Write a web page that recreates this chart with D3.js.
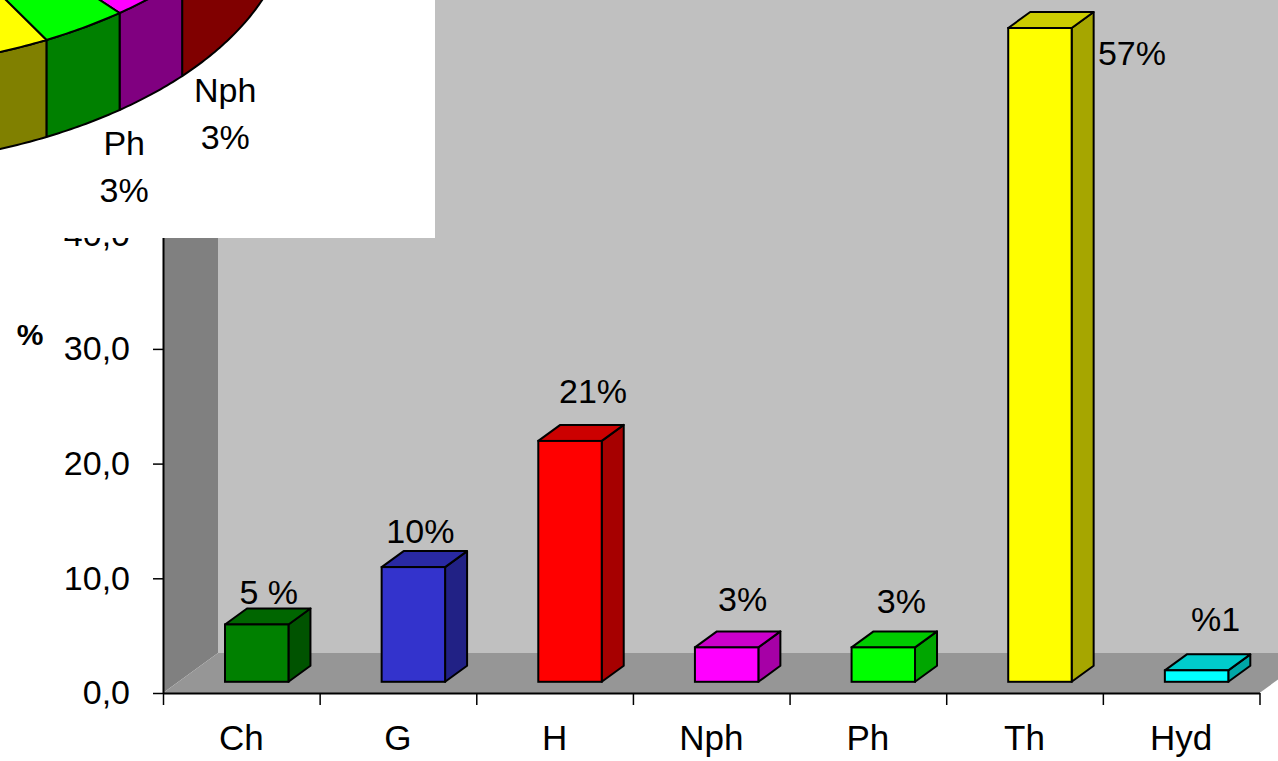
<!DOCTYPE html>
<html>
<head>
<meta charset="utf-8">
<script src="https://cdn.jsdelivr.net/npm/d3@7"></script>
<style>
  html, body { margin: 0; padding: 0; background: #fff; overflow: hidden; }
  svg { display: block; font-family: "Liberation Sans", Arial, sans-serif; }
</style>
</head>
<body>
<svg id="chart" width="1278" height="761"></svg>
<script>
// Life-form spectrum (%)
const categories = ["Ch", "G", "H", "Nph", "Ph", "Th", "Hyd"];
const values = [5, 10, 21, 3, 3, 57, 1];
const valueLabels = ["5 %", "10%", "21%", "3%", "3%", "57%", "%1"];
const pieLabels = ["5%", "10%", "21%", "3%", "3%", "57%", "1%"];
const colors = ["#008000", "#3333CC", "#FF0000", "#FF00FF", "#00FF00", "#FFFF00", "#00FFFF"];
const yTicks = [0, 10, 20, 30, 40, 50];

// label nudges relative to the centre of each bar's top face
const labelOffsets = [[1, -4], [-4, -8], [12, -22], [5, -20], [7, -18], [81, 53], [8, -23]];

const svg = d3.select("#chart");

// ---- 3D bar chart frame ----
const x0 = 163, x1 = 1259.5, yBase = 693;
const depthX = 55, depthY = -40;          // wall depth offset
const f0 = 0.28, f1 = 0.68;               // bar front / back depth fractions

const x = d3.scaleBand().domain(categories).range([x0, x1]);
const xIdx = d3.scaleLinear().domain([0, categories.length]).range([x0, x1]);
const y = d3.scaleLinear().domain([0, 60]).range([yBase, yBase - 688.2]);
const yTop = y(60);

const comma = d3.formatLocale({ decimal: ",", thousands: ".", grouping: [3], currency: ["", ""] }).format(".1f");

const frame = svg.append("g");
// back wall
frame.append("rect")
  .attr("x", x0 + depthX).attr("y", yTop + depthY)
  .attr("width", x1 - x0).attr("height", yBase - yTop)
  .attr("fill", "#C0C0C0");
// left wall
frame.append("polygon")
  .attr("points", [[x0, yTop], [x0 + depthX, yTop + depthY], [x0 + depthX, yBase + depthY], [x0, yBase]].join(" "))
  .attr("fill", "#808080");
// floor
frame.append("polygon")
  .attr("points", [[x0, yBase], [x1, yBase], [x1 + depthX, yBase + depthY], [x0 + depthX, yBase + depthY]].join(" "))
  .attr("fill", "#969696");

// axes
const yAxis = svg.append("g")
  .attr("transform", `translate(${x0},0)`)
  .call(d3.axisLeft(y).tickValues(yTicks).tickSize(10).tickSizeOuter(0).tickPadding(23).tickFormat(comma));
yAxis.select(".domain").attr("stroke", "#000").attr("stroke-width", 2);
yAxis.selectAll(".tick line").attr("stroke", "#000").attr("stroke-width", 1.5);
yAxis.selectAll(".tick text")
  .attr("font-size", 34).attr("fill", "#000")
  .attr("font-family", "Liberation Sans, Arial, sans-serif");

const xAxis = svg.append("g")
  .attr("transform", `translate(0,${yBase})`)
  .call(d3.axisBottom(xIdx).ticks(categories.length).tickSize(12).tickSizeOuter(0).tickFormat(""));
xAxis.select(".domain").attr("stroke", "#000").attr("stroke-width", 2);
xAxis.selectAll(".tick line").attr("stroke", "#000").attr("stroke-width", 1.5);

const xLabels = svg.append("g")
  .attr("transform", `translate(0,${yBase})`)
  .call(d3.axisBottom(x).tickSize(0).tickPadding(0));
xLabels.select(".domain").remove();
xLabels.selectAll(".tick text")
  .attr("y", 57).attr("dy", 0)
  .attr("font-size", 35).attr("fill", "#000")
  .attr("font-family", "Liberation Sans, Arial, sans-serif");

// y-axis title
svg.append("text")
  .attr("x", 30).attr("y", 345)
  .attr("text-anchor", "middle")
  .attr("font-size", 30).attr("font-weight", "bold")
  .text("%");

// ---- bars ----
const barW = x.bandwidth() * 0.405;
const ox = depthX * f0, oy = depthY * f0;
const bdx = depthX * (f1 - f0), bdy = depthY * (f1 - f0);
const shade = (c, k) => { const r = d3.rgb(c); return d3.rgb(r.r * k, r.g * k, r.b * k).formatHex(); };

const bars = svg.append("g").selectAll("g.bar")
  .data(categories.map((c, i) => ({ c, v: values[i], col: colors[i], lab: valueLabels[i], off: labelOffsets[i] })))
  .join("g").attr("class", "bar");

bars.each(function (d) {
  const g = d3.select(this);
  const xl = x(d.c) + (x.bandwidth() - barW) / 2 + ox;
  const xr = xl + barW;
  const yt = y(d.v) + oy;
  const yb = yBase + oy;
  g.append("polygon")
    .attr("points", [[xr, yt], [xr + bdx, yt + bdy], [xr + bdx, yb + bdy], [xr, yb]].join(" "))
    .attr("fill", shade(d.col, 0.65)).attr("stroke", "#000").attr("stroke-width", 2).attr("stroke-linejoin", "round");
  g.append("polygon")
    .attr("points", [[xl, yt], [xr, yt], [xr + bdx, yt + bdy], [xl + bdx, yt + bdy]].join(" "))
    .attr("fill", shade(d.col, 0.8)).attr("stroke", "#000").attr("stroke-width", 2).attr("stroke-linejoin", "round");
  g.append("rect")
    .attr("x", xl).attr("y", yt).attr("width", barW).attr("height", yb - yt)
    .attr("fill", d.col).attr("stroke", "#000").attr("stroke-width", 2);
  g.append("text")
    .attr("x", xl + barW / 2 + bdx / 2 + d.off[0])
    .attr("y", yt + bdy + d.off[1])
    .attr("text-anchor", "middle")
    .attr("font-size", 34).attr("fill", "#000")
    .text(d.lab);
});

// ---- inset 3D pie ----
const boxW = 435, boxH = 238;
const inset = svg.append("g");
inset.append("rect").attr("x", 0).attr("y", 0).attr("width", boxW).attr("height", boxH).attr("fill", "#fff");
svg.append("clipPath").attr("id", "insetClip")
  .append("rect").attr("x", 0).attr("y", 0).attr("width", boxW).attr("height", boxH);
const pieG = inset.append("g").attr("clip-path", "url(#insetClip)");

const pcx = -180, pcyTop = -183.5, prx = 470, pry = 255, pth = 97;
const ell = (t, dy) => [pcx + prx * Math.cos(t), pcyTop + dy + pry * Math.sin(t)];
const arcPts = (a, b, dy) => {
  const n = Math.max(2, Math.ceil(Math.abs(b - a) / 0.01));
  return d3.range(n + 1).map(i => ell(a + (b - a) * i / n, dy));
};

const arcs = d3.pie().sort(null).value(d => d)
  .startAngle(-Math.PI / 2).endAngle(3 * Math.PI / 2)(values);

// side walls on the front half
arcs.forEach((a, i) => {
  const s0 = Math.max(a.startAngle, 0), s1 = Math.min(a.endAngle, Math.PI);
  if (s1 <= s0) return;
  const pts = arcPts(s0, s1, 0).concat(arcPts(s1, s0, pth));
  pieG.append("path")
    .attr("d", "M" + pts.join("L") + "Z")
    .attr("fill", shade(colors[i], 0.5)).attr("stroke", "#000").attr("stroke-width", 2).attr("stroke-linejoin", "round");
});
// top faces
arcs.forEach((a, i) => {
  const pts = [[pcx, pcyTop]].concat(arcPts(a.startAngle, a.endAngle, 0));
  pieG.append("path")
    .attr("d", "M" + pts.join("L") + "Z")
    .attr("fill", colors[i]).attr("stroke", "#000").attr("stroke-width", 2).attr("stroke-linejoin", "round");
});
// slice labels, set on a ring outside the pie; only those inside the inset frame are drawn
const lcx = -267.6, lcy = -199.5, lrx = 697, lry = 442;
arcs.forEach((a, i) => {
  const m = (a.startAngle + a.endAngle) / 2;
  const lx = lcx + lrx * Math.cos(m), ly = lcy + lry * Math.sin(m);
  if (lx < 30 || lx > boxW - 30 || ly < 30 || ly > boxH - 30) return;
  const t = pieG.append("text").attr("text-anchor", "middle").attr("font-size", 34).attr("fill", "#000");
  t.append("tspan").attr("x", lx).attr("y", ly - 11).text(categories[i]);
  t.append("tspan").attr("x", lx).attr("y", ly + 36).text(pieLabels[i]);
});
</script>
</body>
</html>
